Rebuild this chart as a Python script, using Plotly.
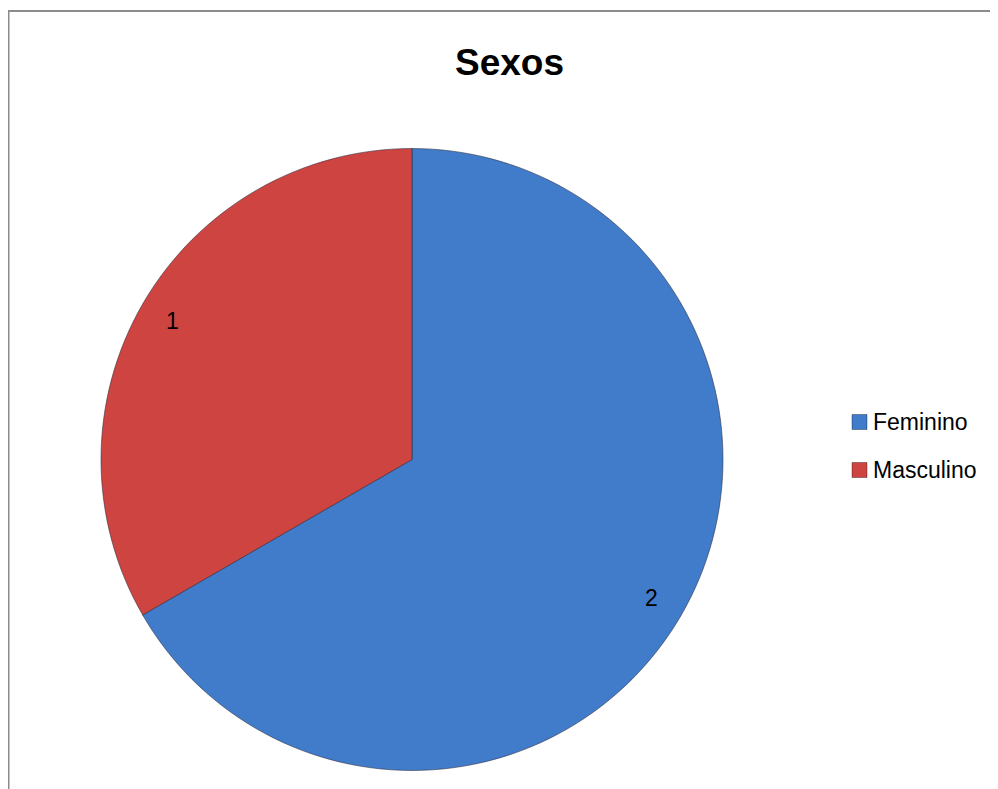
import math
import plotly.graph_objects as go

title = "Sexos"
labels = ["Feminino", "Masculino"]
values = [2, 1]
colors = ["#417CCA", "#CE4440"]

W, H = 998, 789
OFF = 8  # page body margin offset
cx, cy, r = 412 - OFF, 459.5 - OFF, 311

def px(x):
    return x / W

def py(y):
    return 1 - y / H

fig = go.Figure(go.Pie(
    labels=labels,
    values=values,
    sort=False,
    direction="clockwise",
    rotation=0,
    marker=dict(colors=colors, line=dict(color="rgba(40,40,60,0.55)", width=1)),
    textinfo="none",
    hoverinfo="label+value",
    showlegend=False,
    domain=dict(x=[px(cx - r), px(cx + r)], y=[py(cy + r), py(cy - r)]),
))

annotations = []
shapes = []

# data labels placed near the outer edge at each slice's mid angle
total = sum(values)
cum = 0
for lab, v in zip(labels, values):
    mid = (cum + v / 2) / total * 2 * math.pi
    cum += v
    rr = 0.89 * r
    x = cx + rr * math.sin(mid)
    y = cy - rr * math.cos(mid)
    annotations.append(dict(
        x=px(x), y=py(y), xref="paper", yref="paper", text=str(v),
        showarrow=False, xanchor="center", yanchor="middle",
        font=dict(family="Liberation Sans, Arial, sans-serif", size=23, color="#000000"),
    ))

# legend
for i, (lab, col) in enumerate(zip(labels, colors)):
    yc = 422 - OFF + i * 48
    shapes.append(dict(type="rect", xref="paper", yref="paper",
                       x0=px(852 - OFF), x1=px(867 - OFF), y0=py(yc + 7.5), y1=py(yc - 7.5),
                       fillcolor=col, line=dict(color="rgba(0,0,0,0.35)", width=1)))
    annotations.append(dict(
        x=px(871 - OFF), y=py(yc), xref="paper", yref="paper", text=lab,
        showarrow=False, xanchor="left", yanchor="middle",
        font=dict(family="Liberation Sans, Arial, sans-serif", size=23, color="#000000"),
    ))

# title
annotations.append(dict(
    x=px(509 - OFF), y=py(62 - OFF), xref="paper", yref="paper", text="<b>" + title + "</b>",
    showarrow=False, xanchor="center", yanchor="middle",
    font=dict(family="Liberation Sans, Arial, sans-serif", size=37, color="#000000"),
))

# chart border
shapes.append(dict(type="rect", xref="paper", yref="paper",
                   x0=px(8 - OFF + 0.5), x1=px(1010), y0=py(800), y1=py(11 - OFF),
                   line=dict(color="#8C8C8C", width=2), fillcolor="rgba(0,0,0,0)", layer="above"))

fig.update_layout(
    width=W, height=H,
    margin=dict(l=0, r=0, t=0, b=0),
    paper_bgcolor="#FFFFFF",
    plot_bgcolor="#FFFFFF",
    annotations=annotations,
    shapes=shapes,
)

fig.write_html("out.html")
